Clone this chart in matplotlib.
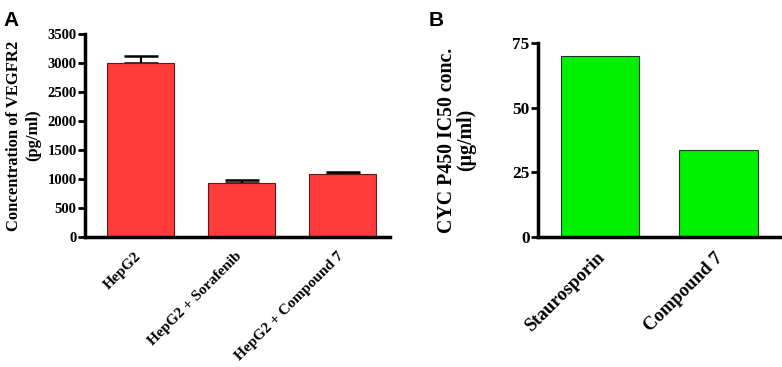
import matplotlib.pyplot as plt
from matplotlib.transforms import ScaledTranslation

# panel A: VEGFR2 concentration
groups_a = ["HepG2", "HepG2 + Sorafenib", "HepG2 + Compound 7"]
vegfr2 = [3000, 935, 1090]
vegfr2_err = [120, 42, 25]

# panel B: CYP450 IC50
groups_b = ["Staurosporin", "Compound 7"]
ic50 = [70, 33.5]

plt.rcParams["font.family"] = "Liberation Serif"
plt.rcParams["font.weight"] = "bold"
plt.rcParams["axes.labelweight"] = "bold"

fig = plt.figure(figsize=(7.82, 3.67), dpi=100)
ax_a = fig.add_axes([0.1087, 0.3542, 0.39, 0.5532])
ax_b = fig.add_axes([0.688, 0.355, 0.312, 0.527])


def style(ax, ysize, xsize, xpad, dx):
    for side in ("top", "right"):
        ax.spines[side].set_visible(False)
    for side in ("left", "bottom"):
        ax.spines[side].set_linewidth(2.5)
    ax.tick_params(axis="y", width=2, length=5, labelsize=ysize, pad=1)
    ax.tick_params(axis="x", length=0, labelsize=xsize, pad=xpad)
    shift = ScaledTranslation(dx / 100, 0, fig.dpi_scale_trans)
    for lab in ax.get_xticklabels():
        lab.set_rotation(45)
        lab.set_ha("right")
        lab.set_rotation_mode("anchor")
        lab.set_transform(lab.get_transform() + shift)


ax_a.bar(range(len(groups_a)), vegfr2, width=0.66, color="#ff3b3b",
         edgecolor="#5a1a1a", linewidth=0.8, zorder=2)
ax_a.errorbar(range(len(groups_a)), vegfr2, yerr=[[0] * 3, vegfr2_err],
              fmt="none", ecolor="black", elinewidth=1.5, capsize=12.5,
              capthick=1.8, zorder=1)
ax_a.set_xlim(-0.55, 2.47)
ax_a.set_ylim(0, 3500)
ax_a.set_yticks(range(0, 3501, 500))
ax_a.set_xticks(range(len(groups_a)))
ax_a.set_xticklabels(groups_a)
ax_a.set_ylabel("Concentration of VEGFR2\n(pg/ml)", fontsize=12,
                fontweight="bold")
ax_a.yaxis.set_label_coords(-0.145, 0.5)
style(ax_a, 10.5, 11, 9, -6)

ax_b.bar(range(len(groups_b)), ic50, width=0.66, color="#00f000",
         edgecolor="#1a3a1a", linewidth=0.8, zorder=2)
ax_b.set_xlim(-0.523, 1.536)
ax_b.set_ylim(0, 75)
ax_b.set_yticks([0, 25, 50, 75])
ax_b.set_xticks(range(len(groups_b)))
ax_b.set_xticklabels(groups_b)
ax_b.set_ylabel("CYC P450 IC50 conc.\n(µg/ml)", fontsize=14.3,
                fontweight="bold", linespacing=0.95)
ax_b.yaxis.set_label_coords(-0.255, 0.5)
style(ax_b, 12.5, 13.5, 9, -4)

fig.text(0.005, 0.97, "A", fontsize=15, fontweight="bold",
         family="Liberation Sans", va="top")
fig.text(0.548, 0.97, "B", fontsize=15, fontweight="bold",
         family="Liberation Sans", va="top")

fig.savefig("out.png", dpi=100)
